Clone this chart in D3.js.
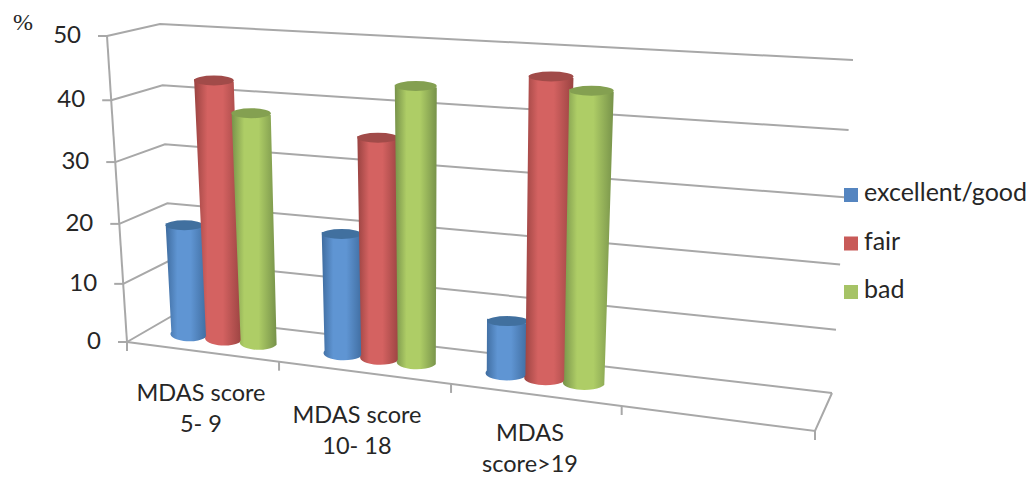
<!DOCTYPE html>
<html>
<head>
<meta charset="utf-8">
<script src="https://cdn.jsdelivr.net/npm/d3@7/dist/d3.min.js"></script>
<style>
  html, body { margin: 0; padding: 0; background: #fff; }
  svg { display: block; }
  text { font-family: Lato, "Noto Sans", sans-serif; fill: #262626; }
</style>
</head>
<body>
<svg id="chart" width="1029" height="477"></svg>
<script>
// Chart data
const categories = [["MDAS score", "5- 9"], ["MDAS score", "10- 18"], ["MDAS", "score>19"]];
const seriesNames = ["excellent/good", "fair", "bad"];
const excellentGood = [18.7, 19.8, 8.5];
const fair = [42.8, 35.6, 46.7];
const bad = [38, 44, 45];
const valueTicks = [0, 10, 20, 30, 40, 50];
const seriesValues = [excellentGood, fair, bad];

const svg = d3.select("#chart");

// The 3D box: scales along its edges, built from its eight visible corners.
const edge = (a, b) => d3.scaleLinear().domain([0, 1]).range([a, b]);
const floorFront = edge([127, 342], [815, 431]);
const floorBack = edge([172, 316], [832, 393]);
const topFront = edge([107, 36], [837, 82]);
const topBack = edge([160, 24], [853, 60]);

// Category slots and value levels are foreshortened by the perspective.
const slotScale = d3.scaleLinear().domain([0, 1, 2, 3, 4]).range([0, 0.221, 0.471, 0.719, 1]);
const levelScale = d3.scaleLinear().domain(valueTicks).range([0, 0.19, 0.386, 0.588, 0.79, 1]);

const mix = (a, b, k) => [a[0] + (b[0] - a[0]) * k, a[1] + (b[1] - a[1]) * k];
// t runs along the box width, depth from front to back, value up the box.
function projectAt(t, depth, value) {
  const w = levelScale(value);
  const base = mix(floorFront(t), floorBack(t), depth);
  const top = mix(topFront(t), topBack(t), depth);
  return mix(base, top, w);
}
const project = (slot, depth, value) => projectAt(slotScale(slot), depth, value);

const lineGen = d3.line();
const frame = svg.append("g").attr("fill", "none").attr("stroke", "#a8a8a8").attr("stroke-width", 2);

// Gridlines across the side wall and the back wall
valueTicks.forEach(v => {
  frame.append("path").attr("d", lineGen([project(0, 0, v), project(0, 1, v), project(4, 1, v)]));
});
// Value axis and its tick marks
frame.append("path").attr("d", lineGen([project(0, 0, 0), project(0, 0, 50)]));
valueTicks.forEach(v => {
  const p = project(0, 0, v);
  frame.append("path").attr("d", lineGen([p, [p[0] - 9, p[1]]]));
});
// Floor edges and category tick marks
frame.append("path").attr("d", lineGen([project(0, 0, 0), project(4, 0, 0), project(4, 1, 0)]));
d3.range(0, 5).forEach(i => {
  const p = project(i, 0, 0);
  frame.append("path").attr("d", lineGen([p, [p[0], p[1] + 9]]));
});

// Value labels
valueTicks.forEach(v => {
  const p = project(0, 0, v);
  svg.append("text").attr("x", p[0] - 26).attr("y", p[1] + 1)
    .attr("text-anchor", "end").attr("dominant-baseline", "middle")
    .attr("font-size", 24).text(v);
});
svg.append("text").attr("x", 13).attr("y", 30)
  .style("font-family", '"Liberation Serif", serif').attr("font-size", 24).text("%");

// Cylinder shading
const palette = [
  { edge: "#3f6c9f", mid: "#5f95d3", cap: "#41709f", swatch: "#5585c0" },
  { edge: "#9a4341", mid: "#d46261", cap: "#a14b49", swatch: "#c85a58" },
  { edge: "#77924a", mid: "#aecd66", cap: "#84a051", swatch: "#a6c366" }
];
const defs = svg.append("defs");
palette.forEach((c, i) => {
  const g = defs.append("linearGradient").attr("id", "cyl" + i);
  g.append("stop").attr("offset", "0%").attr("stop-color", c.edge);
  g.append("stop").attr("offset", "28%").attr("stop-color", c.mid);
  g.append("stop").attr("offset", "60%").attr("stop-color", c.mid);
  g.append("stop").attr("offset", "100%").attr("stop-color", c.edge);
});

// Cylinders, series by series so later ones sit in front within a group
const groupSlots = d3.scalePoint().domain([0, 1, 2]).range([0.5, 2.47]);
const seriesStep = 0.05, halfWidth = 0.026, barDepth = 0.5;
const bars = svg.append("g");
categories.forEach((_, c) => {
  const centre = slotScale(groupSlots(c));
  const zoom = 1 + 0.25 * centre;
  seriesValues.forEach((vals, s) => {
    const t = centre + (s - 1) * seriesStep * zoom;
    const v = vals[c];
    const half = halfWidth * zoom;
    const grow = 1 + 0.06 * levelScale(v);
    const bl = projectAt(t - half, barDepth, 0), br = projectAt(t + half, barDepth, 0);
    const tl = projectAt(t - half * grow, barDepth, v), tr = projectAt(t + half * grow, barDepth, v);
    const rxB = (br[0] - bl[0]) / 2, rxT = (tr[0] - tl[0]) / 2;
    const ryB = 7, ryT = 5;
    bars.append("path")
      .attr("d", `M${bl} A${rxB},${ryB} 0 0 0 ${br} L${tr} L${tl} Z`)
      .attr("fill", `url(#cyl${s})`);
    bars.append("ellipse")
      .attr("cx", (tl[0] + tr[0]) / 2).attr("cy", (tl[1] + tr[1]) / 2)
      .attr("rx", rxT).attr("ry", ryT)
      .attr("fill", palette[s].cap);
  });
});

// Category labels, staggered as they follow the sloping floor
const labelAnchors = [[201, 395], [357, 417], [530, 435]];
categories.forEach((lines, c) => {
  lines.forEach((line, i) => {
    svg.append("text").attr("x", labelAnchors[c][0]).attr("y", labelAnchors[c][1] + i * 31.5)
      .attr("text-anchor", "middle").attr("dominant-baseline", "middle")
      .attr("font-size", 23.5).text(line);
  });
});

// Legend
const legendY = d3.scalePoint().domain(seriesNames).range([195, 292]);
seriesNames.forEach((name, s) => {
  svg.append("rect").attr("x", 844).attr("y", legendY(name) - 7).attr("width", 14).attr("height", 14)
    .attr("fill", palette[s].swatch);
  svg.append("text").attr("x", 864).attr("y", legendY(name))
    .attr("dominant-baseline", "middle").attr("font-size", 25).text(name);
});
</script>
</body>
</html>
